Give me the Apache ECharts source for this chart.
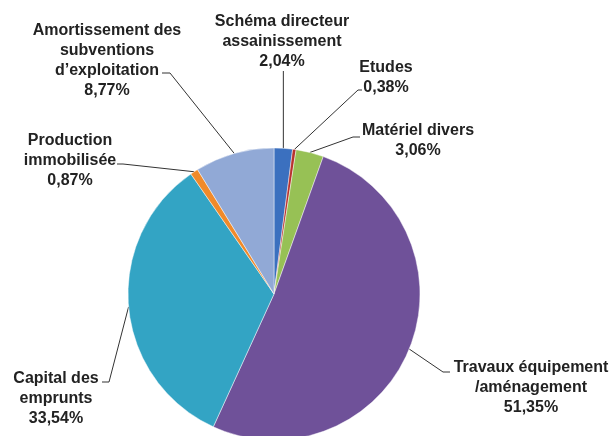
<!DOCTYPE html>
<html>
	<head>
		<meta charset="utf-8">
		<title></title>
		<script src="https://cdn.jsdelivr.net/npm/echarts@6/dist/echarts.min.js"></script>
	</head>
	<body style="margin:0;background:#fff;">
		<div id="main" style="width: 612px;height:436px;"></div>
		<script type="text/javascript">
		// parts of the budget, clockwise from 12 o'clock
		var names = [
			'Schéma directeur\nassainissement',
			'Etudes',
			'Matériel divers',
			'Travaux équipement\n/aménagement',
			'Capital des\nemprunts',
			'Production\nimmobilisée',
			'Amortissement des\nsubventions\nd’exploitation'
		];
		var percents = [2.04, 0.38, 3.06, 51.35, 33.54, 0.87, 8.77];
		var colors = ['#3b70bf', '#b8322e', '#97c155', '#6f5199', '#33a4c4', '#f08a2a', '#91a9d6'];

		// where each label block sits (centre)
		var labelPos = [[282, 42], [386, 78], [418, 141], [531, 388], [56, 399], [70, 161], [107, 61]];
		// leader line: bend point and end point next to the text (null bend = straight up)
		var guideEnds = [
			[null, [0, 71]],
			[[358, 90], [362, 90]],
			[[353, 137], [360, 137]],
			[[443, 372], [450, 372]],
			[[109, 382], [102, 382]],
			[[123, 164], [117, 164]],
			[[170, 73], [162, 73]]
		];

		var pieData = [];
		for (var i = 0; i < names.length; i++) {
			pieData.push({
				name: names[i],
				value: percents[i],
				itemStyle: { color: colors[i] }
			});
		}

		var myChart = echarts.init(document.getElementById('main'));
		myChart.setOption({
			animation: false,
			series: [
				{
					type: 'pie',
					center: [274, 294],
					radius: 146,
					startAngle: 90,
					clockwise: true,
					data: pieData,
					itemStyle: {
						borderColor: 'rgba(255,255,255,0.45)',
						borderWidth: 1
					},
					label: {
						show: true,
						fontFamily: 'Liberation Sans, Arial, sans-serif',
						fontWeight: 'bold',
						fontSize: 16,
						lineHeight: 20,
						color: '#222',
						align: 'center',
						formatter: function (p) {
							return p.name + '\n' + p.value.toFixed(2).replace('.', ',') + '%';
						}
					},
					labelLine: {
						show: true,
						length: 10,
						length2: 6,
						lineStyle: { color: '#333', width: 1 }
					},
					labelLayout: function (p) {
						var pos = labelPos[p.dataIndex];
						var g = guideEnds[p.dataIndex];
						var start = p.labelLinePoints ? p.labelLinePoints[0] : null;
						var out = {
							x: pos[0],
							y: pos[1],
							align: 'center',
							verticalAlign: 'middle'
						};
						if (start) {
							var end = g[1][0] === 0 ? [start[0], g[1][1]] : g[1];
							var bend = g[0] || end;
							out.labelLinePoints = [start, bend, end];
						}
						return out;
					}
				}
			]
		});
		</script>
	</body>
</html>
